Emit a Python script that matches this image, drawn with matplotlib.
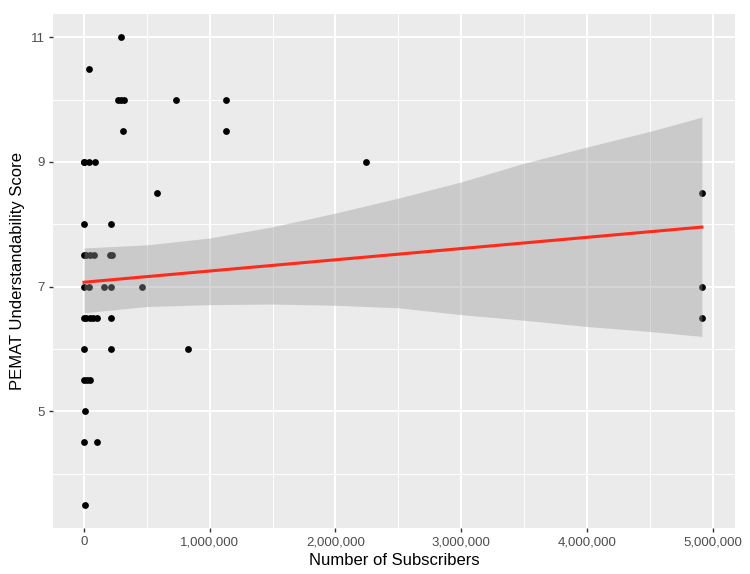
import numpy as np
import matplotlib.pyplot as plt
from matplotlib.ticker import FuncFormatter, MultipleLocator

# subscribers / understandability score
subscribers = [
    293000, 37000,
    270000, 293000, 317000, 730000, 1133000,
    310000, 1133000,
    0, 2000, 40000, 87000, 2240000,
    580000, 4915000,
    2000, 215000,
    0, 13000, 47000, 80000, 205000, 220000,
    0, 40000, 156000, 215000, 460000, 4915000,
    0, 15000, 48000, 72000, 103000, 215000, 4915000,
    2000, 215000, 830000,
    0, 20000, 45000,
    8000,
    0, 100000,
    8000,
]
scores = [
    11, 10.5,
    10, 10, 10, 10, 10,
    9.5, 9.5,
    9, 9, 9, 9, 9,
    8.5, 8.5,
    8, 8,
    7.5, 7.5, 7.5, 7.5, 7.5, 7.5,
    7, 7, 7, 7, 7, 7,
    6.5, 6.5, 6.5, 6.5, 6.5, 6.5, 6.5,
    6, 6, 6,
    5.5, 5.5, 5.5,
    5,
    4.5, 4.5,
    3.5,
]

# linear trend and its 95% band
fit_x = [0, 4915000]
fit_y = [7.07, 7.955]
band_x = [0, 500000, 1000000, 1500000, 2000000, 2500000, 3000000,
          3500000, 4000000, 4500000, 4915000]
band_hi = [7.62, 7.67, 7.78, 7.96, 8.18, 8.42, 8.68, 8.98, 9.24, 9.49, 9.72]
band_lo = [6.58, 6.68, 6.71, 6.72, 6.70, 6.66, 6.55, 6.46, 6.36, 6.28, 6.20]

fig = plt.figure(figsize=(7.5, 5.74), dpi=100)
ax = fig.add_axes([0.0707, 0.0801, 0.909, 0.8955])
ax.set_facecolor('#EBEBEB')

ax.scatter(subscribers, scores, s=24, color='black', zorder=3, linewidths=0)
ax.fill_between(band_x, band_lo, band_hi, color='#999999', alpha=0.4,
                linewidth=0, zorder=4)
ax.plot(fit_x, fit_y, color='#FF2A1A', lw=2.2, zorder=5)

ax.set_xlim(-0.2465e6, 5.1765e6)
ax.set_ylim(3.125, 11.375)
ax.xaxis.set_major_locator(MultipleLocator(1e6))
ax.xaxis.set_minor_locator(MultipleLocator(0.5e6))
ax.set_yticks([5, 7, 9, 11])
ax.set_yticks([4, 6, 8, 10], minor=True)
ax.xaxis.set_major_formatter(FuncFormatter(lambda v, p: f'{int(v):,}'))

ax.grid(which='major', color='white', lw=1.4, zorder=0)
ax.grid(which='minor', color='white', lw=0.7, zorder=0)
ax.set_axisbelow(True)
for sp in ax.spines.values():
    sp.set_visible(False)

ax.tick_params(which='major', length=3, width=1, color='#333333',
               labelcolor='#4D4D4D', labelsize=9.5, pad=3)
ax.tick_params(which='minor', length=0)
for lab in ax.get_xticklabels() + ax.get_yticklabels():
    lab.set_family('Liberation Sans')

ax.set_xlabel('Number of Subscribers', family='Liberation Sans', fontsize=12, labelpad=3)
ax.set_ylabel('PEMAT Understandability Score', family='Liberation Sans', fontsize=12, labelpad=4)

fig.savefig('out.png', dpi=100)
